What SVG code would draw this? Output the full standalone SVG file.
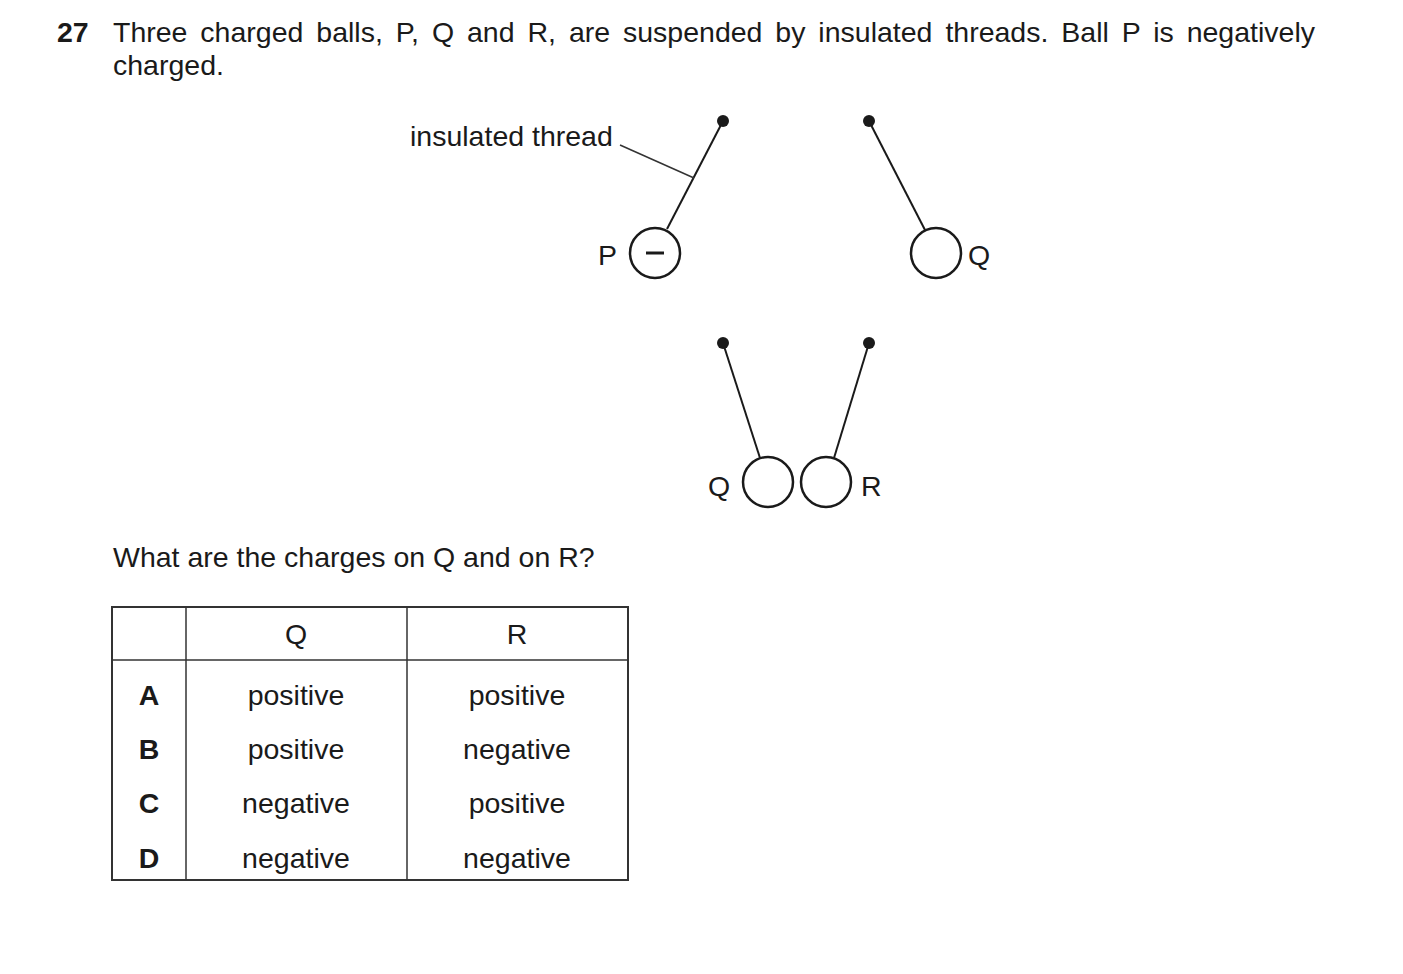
<svg xmlns="http://www.w3.org/2000/svg" width="1403" height="974" viewBox="0 0 1403 974">
<style>
text{font-family:"Liberation Sans",Arial,sans-serif;font-size:28.5px;fill:#1a1a1a}
.b{font-weight:bold}
.m{text-anchor:middle}
.th{stroke:#1a1a1a;stroke-width:2;fill:none}
.ball{stroke:#1a1a1a;stroke-width:2.5;fill:#fff}
.t{stroke:#333;stroke-width:1.5;fill:none}
</style>
<rect width="1403" height="974" fill="#fff"/>
<text x="57" y="42" class="b">27</text>
<text x="113" y="42" word-spacing="5">Three charged balls, P, Q and R, are suspended by insulated threads. Ball P is negatively</text>
<text x="113" y="75">charged.</text>
<g id="ballP">
<line class="th" x1="723" y1="121" x2="667" y2="229"/>
<circle cx="723" cy="121" r="6" fill="#1a1a1a"/>
<circle class="ball" cx="655" cy="253" r="25"/>
<line x1="646" y1="253" x2="664" y2="253" stroke="#1a1a1a" stroke-width="3"/>
<text x="598" y="265">P</text>
<text x="410" y="146">insulated thread</text>
<line class="t" x1="620" y1="145" x2="694" y2="178"/>
</g>
<g id="ballQ1">
<line class="th" x1="869" y1="121" x2="925" y2="230"/>
<circle cx="869" cy="121" r="6" fill="#1a1a1a"/>
<circle class="ball" cx="936" cy="253" r="25"/>
<text x="968" y="265">Q</text>
</g>
<g id="ballQ2">
<line class="th" x1="723" y1="343" x2="760" y2="458"/>
<circle cx="723" cy="343" r="6" fill="#1a1a1a"/>
<circle class="ball" cx="768" cy="482" r="25"/>
<text x="708" y="496">Q</text>
</g>
<g id="ballR">
<line class="th" x1="869" y1="343" x2="834" y2="458"/>
<circle cx="869" cy="343" r="6" fill="#1a1a1a"/>
<circle class="ball" cx="826" cy="482" r="25"/>
<text x="861" y="496">R</text>
</g>
<text x="113" y="567">What are the charges on Q and on R?</text>
<g id="table">
<rect x="112" y="607" width="516" height="273" fill="none" stroke="#333" stroke-width="2"/>
<line class="t" x1="186" y1="607" x2="186" y2="880" stroke-width="2"/>
<line class="t" x1="407" y1="607" x2="407" y2="880" stroke-width="2"/>
<line class="t" x1="112" y1="660" x2="628" y2="660" stroke-width="2"/>
<text x="296" y="644" class="m">Q</text>
<text x="517" y="644" class="m">R</text>
<text x="149" y="705" class="m b">A</text>
<text x="296" y="705" class="m">positive</text>
<text x="517" y="705" class="m">positive</text>
<text x="149" y="759" class="m b">B</text>
<text x="296" y="759" class="m">positive</text>
<text x="517" y="759" class="m">negative</text>
<text x="149" y="813" class="m b">C</text>
<text x="296" y="813" class="m">negative</text>
<text x="517" y="813" class="m">positive</text>
<text x="149" y="868" class="m b">D</text>
<text x="296" y="868" class="m">negative</text>
<text x="517" y="868" class="m">negative</text>
</g>
</svg>
